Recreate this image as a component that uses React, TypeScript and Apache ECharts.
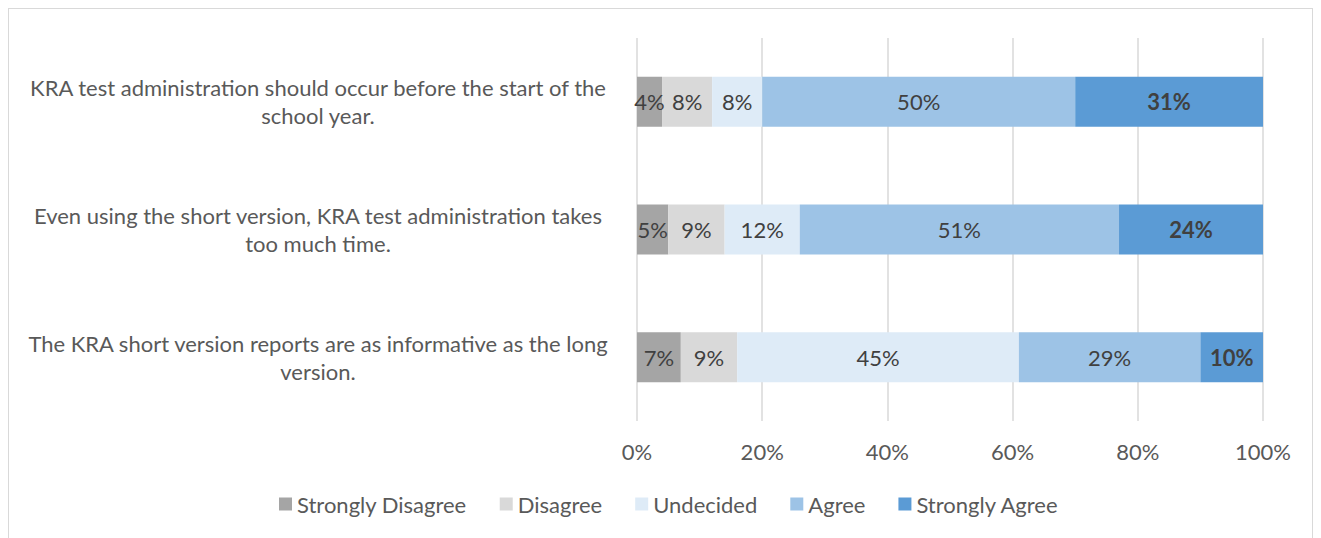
import React, { useEffect, useRef } from "react";
import * as echarts from "echarts";

const categories = [
  "KRA test administration should occur before the start of the\nschool year.",
  "Even using the short version, KRA test administration takes\ntoo much time.",
  "The KRA short version reports are as informative as the long\nversion.",
];
const seriesNames = ["Strongly Disagree", "Disagree", "Undecided", "Agree", "Strongly Agree"];
const stronglyDisagree = [4, 5, 7];
const disagree = [8, 9, 9];
const undecided = [8, 12, 45];
const agree = [50, 51, 29];
const stronglyAgree = [31, 24, 10];
const xTicks = [0, 20, 40, 60, 80, 100];

const colors = ["#a5a5a5", "#d9d9d9", "#deebf7", "#9dc3e6", "#5b9bd5"];
const FONT = "Lato, 'Liberation Sans', sans-serif";
const FS = 22;

export default function App() {
  const ref = useRef<HTMLDivElement>(null);
  useEffect(() => {
    if (!ref.current) return;
    const chart = echarts.init(ref.current, undefined, { renderer: "svg" });
    const values = [stronglyDisagree, disagree, undecided, agree, stronglyAgree];
    chart.setOption({
      animation: false,
      textStyle: { fontFamily: FONT },
      grid: {
        left: 628,
        right: 49,
        top: 29,
        bottom: 131,
        containLabel: false,
        outerBoundsMode: "none",
      },
      legend: {
        bottom: 32,
        left: 265,
        itemWidth: 13,
        itemHeight: 13,
        itemGap: 33,
        icon: "rect",
        textStyle: { color: "#595959", fontSize: FS, fontFamily: FONT },
        data: seriesNames,
      },
      xAxis: {
        type: "value",
        min: xTicks[0],
        max: xTicks[xTicks.length - 1],
        interval: 20,
        axisLine: { show: false },
        axisTick: { show: false },
        splitLine: { lineStyle: { color: "#d9d9d9", width: 1.5 } },
        axisLabel: {
          formatter: "{value}%",
          color: "#595959",
          fontSize: FS,
          margin: 19,
          fontFamily: FONT,
        },
      },
      yAxis: {
        type: "category",
        inverse: true,
        data: categories,
        axisLine: { show: false },
        axisTick: { show: false },
        axisLabel: {
          align: "center",
          margin: 319,
          color: "#595959",
          fontSize: FS,
          lineHeight: 28,
          fontFamily: FONT,
        },
      },
      series: seriesNames.map((name, i) => ({
        name,
        type: "bar",
        stack: "total",
        barWidth: 50,
        data: values[i],
        itemStyle: { color: colors[i] },
        label: {
          show: true,
          position: "inside",
          formatter: "{c}%",
          color: "#404040",
          fontSize: FS,
          fontWeight: i === 4 ? "bold" : "normal",
          fontFamily: FONT,
        },
      })),
    });
    return () => chart.dispose();
  }, []);
  return (
    <div
      style={{
        width: 1305,
        height: 545,
        border: "1px solid #d9d9d9",
        boxSizing: "border-box",
      }}
    >
      <div ref={ref} style={{ width: 1303, height: 543 }} />
    </div>
  );
}
